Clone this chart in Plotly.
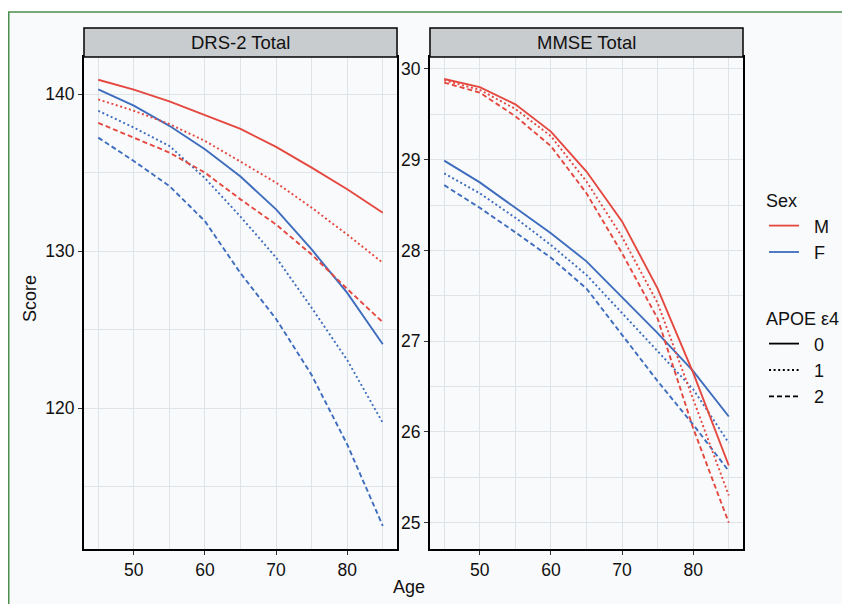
import plotly.graph_objects as go
from plotly.subplots import make_subplots

# ---------------- data ----------------
ages = [45, 50, 55, 60, 65, 70, 75, 80, 85]

drs_m0 = [140.91, 140.28, 139.53, 138.68, 137.78, 136.64, 135.32, 133.94, 132.45]
drs_m1 = [139.66, 138.94, 138.09, 137.02, 135.70, 134.36, 132.77, 131.06, 129.26]
drs_m2 = [138.17, 137.23, 136.28, 135.00, 133.30, 131.70, 129.79, 127.60, 125.48]
drs_f0 = [140.30, 139.26, 137.98, 136.49, 134.75, 132.66, 130.11, 127.35, 124.08]
drs_f1 = [138.94, 137.87, 136.70, 134.65, 132.20, 129.60, 126.40, 123.07, 119.08]
drs_f2 = [137.23, 135.74, 134.15, 131.91, 128.60, 125.69, 122.12, 117.70, 112.52]

mmse_m0 = [29.89, 29.80, 29.61, 29.31, 28.87, 28.32, 27.58, 26.65, 25.63]
mmse_m1 = [29.875, 29.77, 29.56, 29.26, 28.76, 28.15, 27.42, 26.36, 25.30]
mmse_m2 = [29.85, 29.74, 29.48, 29.15, 28.63, 27.97, 27.25, 26.04, 25.00]
mmse_f0 = [28.99, 28.75, 28.47, 28.19, 27.88, 27.49, 27.09, 26.67, 26.17]
mmse_f1 = [28.85, 28.63, 28.36, 28.06, 27.73, 27.31, 26.90, 26.47, 25.88]
mmse_f2 = [28.72, 28.47, 28.20, 27.92, 27.58, 27.07, 26.56, 26.08, 25.57]

panel_titles = ["DRS-2 Total", "MMSE Total"]
sex_levels = ["M", "F"]
apoe_levels = ["0", "1", "2"]
x_ticks = [50, 60, 70, 80]
drs_ticks = [120, 130, 140]
mmse_ticks = [25, 26, 27, 28, 29, 30]

# ---------------- styles ----------------
RED = "#E4483F"
BLUE = "#3E6DBE"
sex_color = {"M": RED, "F": BLUE}
dash_style = {"0": "solid", "1": "2px,2.6px", "2": "5px,3px"}
FONT = "Liberation Sans, Arial, Helvetica, sans-serif"
BG = "#f9fafc"
GRID = "#dfe4e9"
NB = "\u00a0\u00a0"

fig = make_subplots(rows=1, cols=2, horizontal_spacing=0.05)

panels = [
    {"M": [drs_m0, drs_m1, drs_m2], "F": [drs_f0, drs_f1, drs_f2]},
    {"M": [mmse_m0, mmse_m1, mmse_m2], "F": [mmse_f0, mmse_f1, mmse_f2]},
]

for ci, pdata in enumerate(panels, start=1):
    for sex in ["F", "M"]:
        for ai, ap in enumerate(apoe_levels):
            fig.add_trace(
                go.Scatter(
                    x=ages, y=pdata[sex][ai], mode="lines",
                    line=dict(color=sex_color[sex], width=1.9, dash=dash_style[ap]),
                    showlegend=False, hoverinfo="skip",
                ),
                row=1, col=ci,
            )

# legend entries (dummy traces)
for sex in sex_levels:
    fig.add_trace(go.Scatter(x=[None], y=[None], mode="lines", name=NB + sex,
                             line=dict(color=sex_color[sex], width=1.8),
                             legend="legend", showlegend=True))
for ap in apoe_levels:
    fig.add_trace(go.Scatter(x=[None], y=[None], mode="lines", name=NB + ap,
                             line=dict(color="black", width=1.8, dash=dash_style[ap]),
                             legend="legend2", showlegend=True))

axis_common = dict(
    showline=True, linecolor="black", linewidth=2, mirror=True,
    ticks="outside", ticklen=4, tickcolor="#333333", tickwidth=1,
    showgrid=True, gridcolor=GRID, gridwidth=1.4,
    zeroline=False,
    tickfont=dict(family=FONT, size=17.5, color="#111111"),
)

for ci in (1, 2):
    fig.update_xaxes(range=[43, 87], tickvals=x_ticks,
                     minor=dict(tickvals=[45, 55, 65, 75, 85], showgrid=True,
                                gridcolor=GRID, gridwidth=0.8, ticks=""),
                     row=1, col=ci, **axis_common)

fig.update_yaxes(range=[111.05, 142.36], tickvals=drs_ticks,
                 minor=dict(tickvals=[115, 125, 135], showgrid=True,
                            gridcolor=GRID, gridwidth=0.8, ticks=""),
                 row=1, col=1, **axis_common)
fig.update_yaxes(range=[24.71, 30.132], tickvals=mmse_ticks,
                 minor=dict(tickvals=[25.5, 26.5, 27.5, 28.5, 29.5], showgrid=True,
                            gridcolor=GRID, gridwidth=0.8, ticks=""),
                 row=1, col=2, **axis_common)

fig.update_layout(
    xaxis=dict(domain=[0, 0.475]),
    xaxis2=dict(domain=[0.525, 1]),
)

# figure frame (journal border)
shapes = [
    dict(type="rect", xref="paper", yref="paper",
         x0=-0.1142, x1=1.1775, y0=-0.1443, y1=1.0915,
         line=dict(color="#4b8f4b", width=1.5), fillcolor=BG, layer="below"),
]
annotations = []
strip_h = 29 / 492
for ci, title in enumerate(panel_titles, start=1):
    xs = "x" if ci == 1 else "x2"
    ys = "y" if ci == 1 else "y2"
    shapes.append(dict(type="rect", xref=f"{xs} domain", yref=f"{ys} domain",
                       x0=0, x1=1, y0=1, y1=1 + strip_h,
                       line=dict(color="black", width=1.5), fillcolor="#c9cccf",
                       layer="above"))
    annotations.append(dict(text=title, xref=f"{xs} domain", yref=f"{ys} domain",
                            x=0.5, y=1 + strip_h / 2, showarrow=False,
                            xanchor="center", yanchor="middle",
                            font=dict(family=FONT, size=18.5, color="#111111")))

annotations.append(dict(text="Age", xref="paper", yref="paper",
                        x=(409 - 84) / 659, y=(549 - 587) / 492,
                        showarrow=False, xanchor="center", yanchor="middle",
                        font=dict(family=FONT, size=18, color="#111111")))
annotations.append(dict(text="Score", xref="paper", yref="paper",
                        x=(30 - 84) / 659, y=(549 - 298) / 492, textangle=-90,
                        showarrow=False, xanchor="center", yanchor="middle",
                        font=dict(family=FONT, size=18, color="#111111")))

fig.update_layout(
    width=850, height=604,
    margin=dict(l=76, r=115, t=49, b=63, autoexpand=False),
    paper_bgcolor="white", plot_bgcolor=BG,
    shapes=shapes, annotations=annotations,
    legend=dict(title=dict(text="Sex", font=dict(family=FONT, size=18, color="#111111")),
                x=(764 - 84) / 659, xanchor="left", y=(549 - 184) / 492, yanchor="top",
                bgcolor="rgba(0,0,0,0)", font=dict(family=FONT, size=18, color="#111111"),
                itemwidth=30),
    legend2=dict(title=dict(text="APOE ε4", font=dict(family=FONT, size=18, color="#111111")),
                 x=(764 - 84) / 659, xanchor="left", y=(549 - 302) / 492, yanchor="top",
                 bgcolor="rgba(0,0,0,0)", font=dict(family=FONT, size=18, color="#111111"),
                 itemwidth=30),
)

fig.write_html("out.html")
